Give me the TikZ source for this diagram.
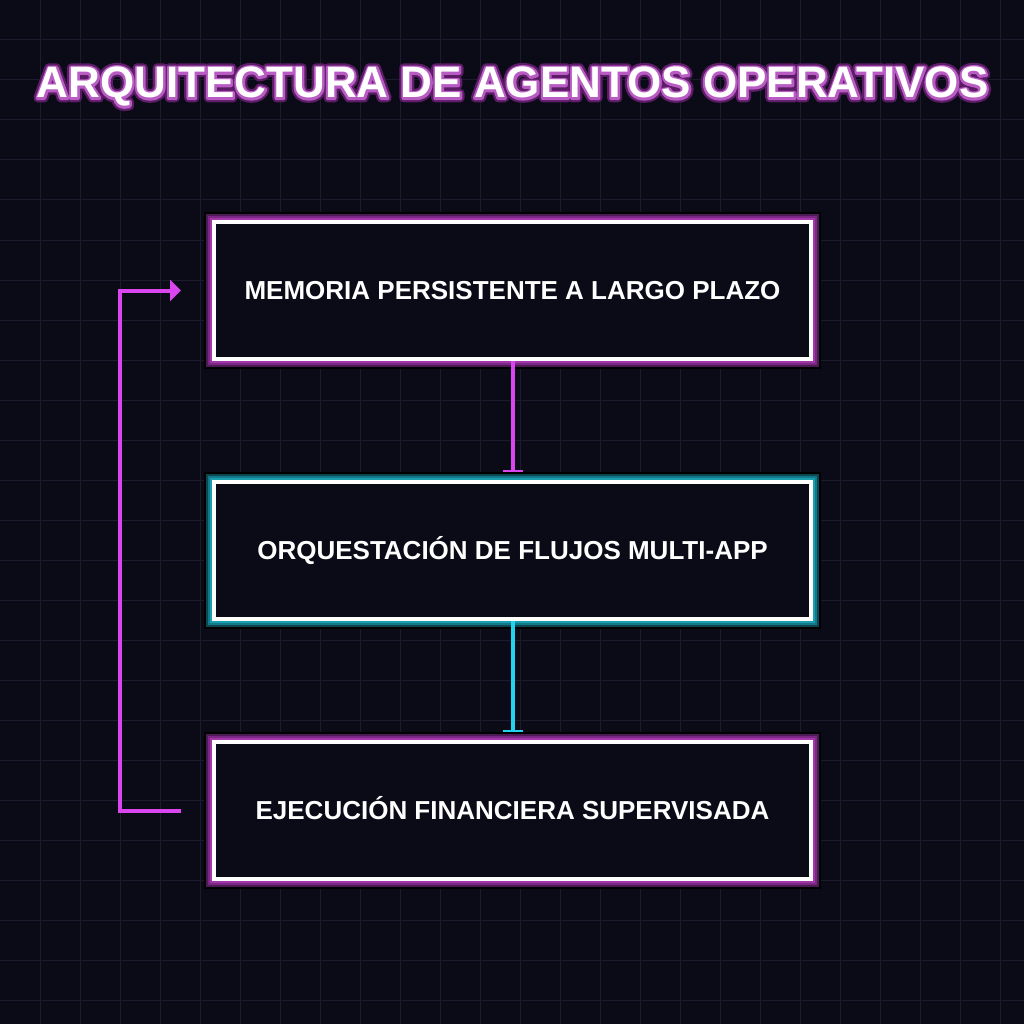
\documentclass[tikz,border=0pt]{standalone}
\usepackage{fontspec}
\setmainfont{Liberation Sans}
\newfontfamily\glowout{Liberation Sans Bold}[FakeBold=20]
\newfontfamily\glowin{Liberation Sans Bold}[FakeBold=10]
\usetikzlibrary{arrows.meta, positioning}
\definecolor{bgdark}{HTML}{0B0B18}
\definecolor{gridc}{HTML}{1C1C2E}
\definecolor{magline}{HTML}{D946EF}
\definecolor{cyanline}{HTML}{22D3EE}
\definecolor{plight}{HTML}{A236AA}
\definecolor{pmid}{HTML}{7A2884}
\definecolor{pdark}{HTML}{4C1A55}
\definecolor{tlight}{HTML}{1A9FB0}
\definecolor{tmid}{HTML}{137887}
\definecolor{tdark}{HTML}{0C4650}
\definecolor{ttlin}{HTML}{B85CC4}
\definecolor{ttlout}{HTML}{5C1C66}
\newcommand{\roundjoin}{\special{pdf:code 1 j}}

\begin{document}
\begin{tikzpicture}[
    x=1pt, y=-1pt,
    stage/.style ={draw=white, line width=4pt, fill=bgdark, text=white,
                   font=\fontsize{26}{30}\selectfont\bfseries,
                   text height=18.6pt, text depth=0pt, inner sep=0pt,
                   minimum width=597pt, minimum height=137pt},
    pglow/.style ={stage,
                   preaction={draw=black, line width=20pt},
                   preaction={draw=pdark, line width=16pt},
                   preaction={draw=pmid, line width=12pt},
                   preaction={draw=plight, line width=8pt}},
    tglow/.style ={stage,
                   preaction={draw=black, line width=20pt},
                   preaction={draw=tdark, line width=16pt},
                   preaction={draw=tmid, line width=12pt},
                   preaction={draw=tlight, line width=8pt}},
    ttl/.style   ={font=\fontsize{44}{50}\selectfont\bfseries, anchor=base,
                   inner sep=0pt},
    flow/.style  ={line width=4pt, -{Bar[width=20pt, line width=2pt]},
                   shorten >=8pt},
    back/.style  ={line width=4pt, draw=magline,
                   -{Triangle[length=11pt, width=21pt]},
                   shorten <=31pt, shorten >=31pt},
]
% background and grid
\fill[bgdark] (0,0) rectangle (1024,1024);
\useasboundingbox (0,0) rectangle (1024,1024);
\foreach \g in {40,80,...,1000} {
  \draw[gridc, line width=1pt] (\g,0) -- (\g,1024);
  \draw[gridc, line width=1pt] (0,\g) -- (1024,\g);
}
% title with glow
\node[ttl, text=ttlout, font=\fontsize{44}{50}\selectfont\glowout] (titleglow)
   at (512.5,98) {\roundjoin ARQUITECTURA DE AGENTOS OPERATIVOS};
\node[ttl, text=ttlin, font=\fontsize{44}{50}\selectfont\glowin] (titleedge)
   at (512.5,98) {\roundjoin ARQUITECTURA DE AGENTOS OPERATIVOS};
\node[ttl, text=white] (title) at (512.5,98) {ARQUITECTURA DE AGENTOS OPERATIVOS};
% stages
\node[pglow] (mem) at (512.5,290.5) {MEMORIA PERSISTENTE A LARGO PLAZO};
\node[tglow, below=119pt of mem] (orq) {ORQUESTACIÓN DE FLUJOS MULTI-APP};
\node[pglow, below=119pt of orq] (eje) {EJECUCIÓN FINANCIERA SUPERVISADA};
% connectors
\draw[flow, magline] (mem.south) -- (orq.north);
\draw[flow, cyanline] (orq.south) -- (eje.north);
\draw[back] (eje.west) -- ++(-92,0) |- (mem.west);
\end{tikzpicture}
\end{document}
